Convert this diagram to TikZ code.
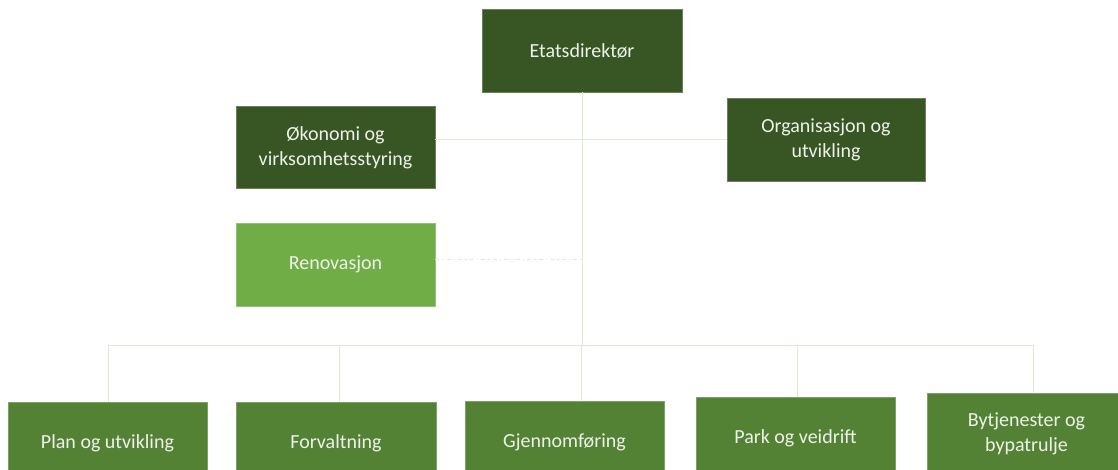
\documentclass[tikz,border=0pt]{standalone}
\usepackage{fontspec}
\setmainfont{Carlito}
\definecolor{darkg}{HTML}{375623}
\definecolor{midg}{HTML}{548235}
\definecolor{lightg}{HTML}{70AD47}
\definecolor{linec}{HTML}{DCEBD2}
\definecolor{txt}{HTML}{EEF2EA}
\begin{document}
\begin{tikzpicture}[x=1pt,y=-1pt,
  box/.style={rectangle, minimum width=199pt, minimum height=82pt, inner sep=2pt,
    align=center, text=txt, font=\fontsize{20}{25}\selectfont, draw=#1!75!white, line width=0.6pt, fill=#1},
  conn/.style={draw=linec, line width=1pt},
  dashconn/.style={draw=linec, line width=1pt, dash pattern=on 4pt off 3pt on 1.5pt off 3pt}]
\useasboundingbox[clip] (0,0) rectangle (1118,470);
\fill[white] (0,0) rectangle (1118,470);

\node[box=darkg, minimum width=200pt, minimum height=83pt] (etat) at (582,50.5) {Etatsdirektør};
\node[box=darkg] (okon) at (335.5,147.5) {Økonomi og\\virksomhetsstyring};
\node[box=darkg, minimum width=198pt, minimum height=83pt] (org) at (826,139.5) {Organisasjon og\\utvikling};
\node[box=lightg, minimum height=83pt] (renov) at (335.5,264.5) {Renovasjon};

\node[box=midg] (plan) at (107.5,443) {Plan og utvikling};
\node[box=midg, minimum width=200pt] (forv) at (336,443) {Forvaltning};
\node[box=midg] (gjen) at (564.5,442) {Gjennomføring};
\node[box=midg] (park) at (795.5,438) {Park og veidrift};
\node[box=midg] (bytj) at (1026.5,434) {Bytjenester og\\bypatrulje};

\coordinate (j1) at (582,140);
\coordinate (j2) at (582,259);
\coordinate (bus) at (582,345);
\coordinate (b1) at (108,345);
\coordinate (b2) at (339,345);
\coordinate (b3) at (581,345);
\coordinate (b4) at (797,345);
\coordinate (b5) at (1033,345);

\begin{scope}[on background layer/.style={}]
\end{scope}
\path[conn] (etat.south) -- (bus);
\path[conn] (okon.east |- j1) -- (org.west |- j1);
\path[dashconn] (renov.east |- j2) -- (j2);
\path[conn] (b1) -- (b5);
\path[conn] (b1) -- (b1 |- plan.north);
\path[conn] (b2) -- (b2 |- forv.north);
\path[conn] (b3) -- (b3 |- gjen.north);
\path[conn] (b4) -- (b4 |- park.north);
\path[conn] (b5) -- (b5 |- bytj.north);
\end{tikzpicture}
\end{document}
